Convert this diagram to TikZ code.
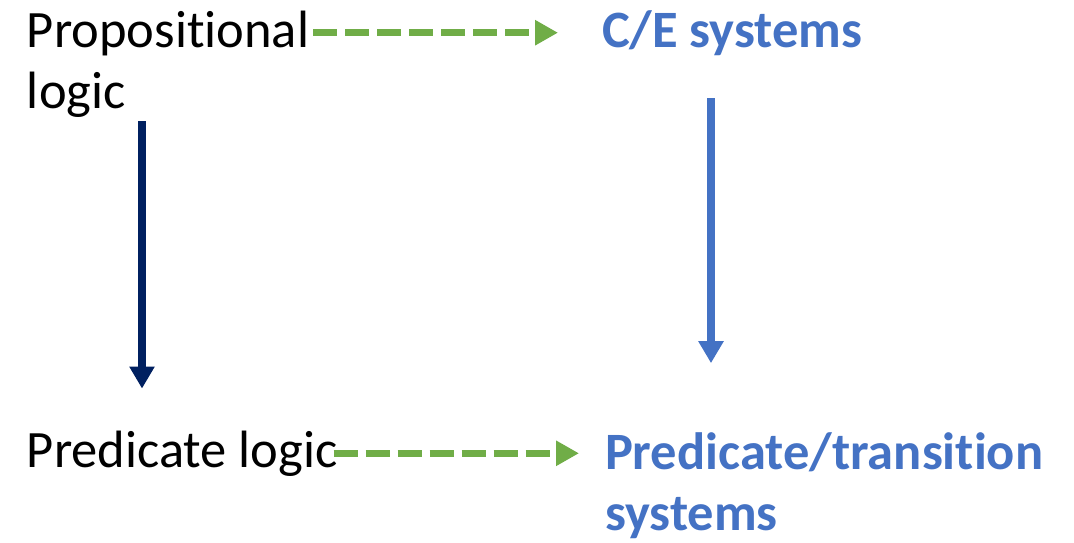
\documentclass[tikz,border=0pt]{standalone}
\usepackage{fontspec}
\setmainfont{Carlito}[Ligatures=CommonOff]
\usetikzlibrary{arrows.meta}
\definecolor{accentblue}{HTML}{4472C4}
\definecolor{leafgreen}{HTML}{70AD47}
\definecolor{navy}{HTML}{002060}
\tikzset{
  label text/.style={inner sep=0pt, outer sep=0pt, align=left, anchor=base west,
    font=\fontsize{52.5}{61}\selectfont},
  system text/.style={label text, text=accentblue, font=\fontsize{52.5}{61}\selectfont\bfseries},
  analogy/.style={leafgreen, line width=7pt, dash pattern=on 24pt off 8pt,
    -{Triangle[width=24pt,length=23pt]}},
  refine/.style={line width=8pt, -{Triangle[width=24pt,length=22pt]}},
}
\begin{document}
\begin{tikzpicture}[x=1pt,y=-1pt]
  \useasboundingbox (0,0) rectangle (1074,542);
  % logics on the left, system classes on the right
  % (base anchors of two-line nodes sit on the last line)
  \node[label text]  (prop) at (27,108) {Propositional\\logic};
  \node[system text] (ce)   at (602,47) {C/E systems};
  \node[label text]  (pred) at (27,467) {Predicate logic};
  \node[system text] (pt)   at (605,530) {Predicate/transition\\systems};
  % horizontal correspondences
  \draw[analogy, shorten <=4pt, shorten >=44pt] (prop.east |- ce.west) -- (ce.west);
  \draw[analogy, shorten <=-4pt, shorten >=26pt] (pred.east) -- (pred.east -| pt.west);
  % vertical generalisations
  \draw[refine, navy, shorten <=4pt, shorten >=42pt]
    ([xshift=115pt]prop.south west) -- ([xshift=115pt]prop.south west |- pred.north);
  \draw[refine, accentblue, shorten <=43pt, shorten >=69pt]
    ([xshift=109pt]ce.south west) -- ([xshift=109pt]ce.south west |- pt.north);
\end{tikzpicture}
\end{document}
